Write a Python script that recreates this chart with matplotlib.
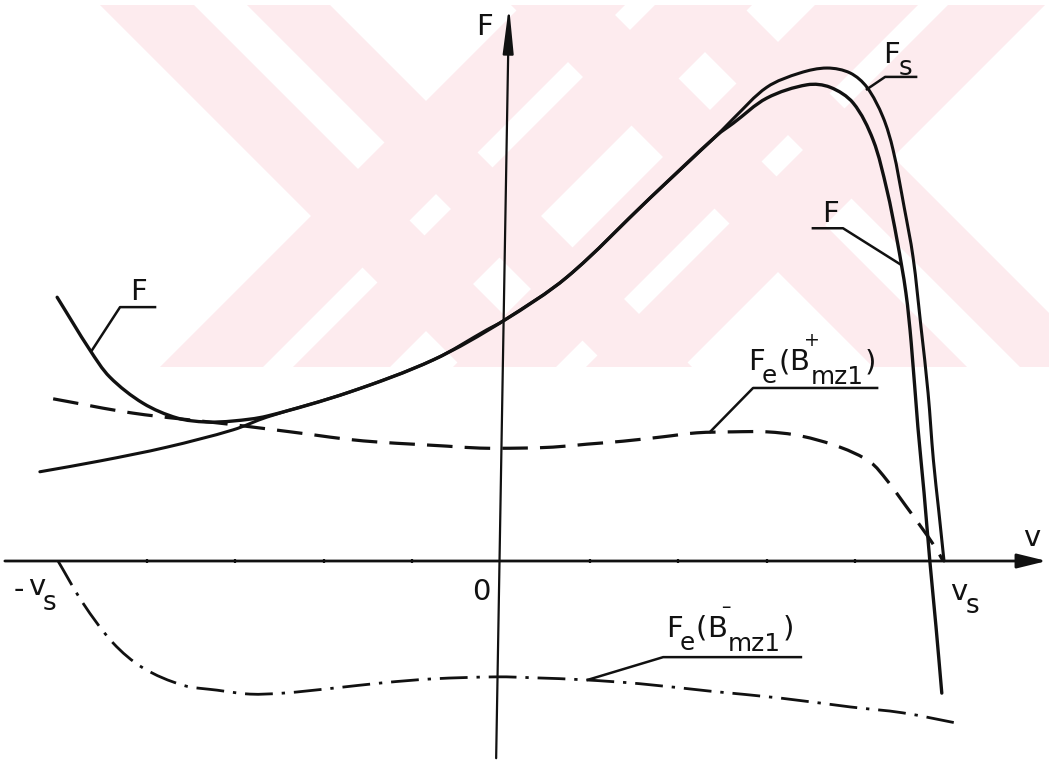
import numpy as np
import matplotlib
matplotlib.use("Agg")
import matplotlib.pyplot as plt
from matplotlib.path import Path
from matplotlib.patches import PathPatch, Polygon, Rectangle

plt.rcParams["font.family"] = ["DejaVu Sans"]

# velocity in units of v_s, force in units of the peak of F_s
v_Fs = [-1.041, -0.905, -0.754, -0.605, -0.528, -0.341, -0.153, -0.032, 0.005,
        0.149, 0.336, 0.488, 0.524, 0.600, 0.675, 0.736, 0.788, 0.826, 0.862,
        0.885, 0.910, 0.930, 0.948, 0.964, 0.976, 0.988, 1.000]
F_Fs = [0.181, 0.203, 0.231, 0.266, 0.292, 0.343, 0.408, 0.469, 0.487,
        0.576, 0.736, 0.864, 0.897, 0.961, 0.990, 1.000, 0.990, 0.961, 0.901,
        0.834, 0.718, 0.617, 0.475, 0.341, 0.205, 0.103, 0.000]

v_F = [-1.002, -0.928, -0.883, -0.808, -0.731, -0.666, -0.605, -0.528, -0.341,
       -0.153, 0.005, 0.149, 0.336, 0.488, 0.524, 0.600, 0.691, 0.743, 0.795,
       0.840, 0.871, 0.894, 0.914, 0.926, 0.941, 0.955, 0.968, 0.982, 0.995]
F_F = [0.535, 0.428, 0.373, 0.320, 0.290, 0.282, 0.284, 0.294, 0.343,
       0.408, 0.487, 0.576, 0.736, 0.864, 0.888, 0.939, 0.966, 0.961, 0.929,
       0.854, 0.753, 0.651, 0.544, 0.442, 0.272, 0.138, 0.000, -0.134, -0.268]

v_Fe_plus = [-1.011, -0.831, -0.619, -0.528, -0.424, -0.348, -0.273, -0.199,
             -0.122, -0.047, 0.043, 0.117, 0.194, 0.275, 0.366, 0.442, 0.524,
             0.600, 0.675, 0.765, 0.833, 0.871, 0.912, 0.950, 0.980, 0.998]
F_Fe_plus = [0.329, 0.300, 0.278, 0.268, 0.256, 0.247, 0.241, 0.237,
             0.233, 0.229, 0.229, 0.231, 0.237, 0.243, 0.252, 0.260, 0.262,
             0.262, 0.254, 0.231, 0.201, 0.164, 0.114, 0.067, 0.028, 0.000]

v_Fe_minus = [-1.000, -0.944, -0.876, -0.808, -0.718, -0.641, -0.567, -0.492,
              -0.379, -0.266, -0.153, -0.009, 0.077, 0.187, 0.314, 0.472,
              0.630, 0.788, 0.907, 1.041]
F_Fe_minus = [0.000, -0.085, -0.166, -0.217, -0.252, -0.262, -0.270, -0.268,
              -0.258, -0.247, -0.239, -0.235, -0.237, -0.241, -0.249, -0.264,
              -0.278, -0.296, -0.308, -0.331]

tick_v = [-0.8, -0.6, -0.4, -0.2, 0.2, 0.4, 0.6, 0.8]

W, H = 1049, 761
fig = plt.figure(figsize=(W / 100, H / 100), dpi=100)

# pale striped emblem behind the drawing, in pixel units (y downwards)
bg = fig.add_axes([0, 0, 1, 1])
bg.set_xlim(0, W)
bg.set_ylim(H, 0)
bg.axis("off")
pink = "#fdebee"
clip = Rectangle((98, 5), W - 98, 362, transform=bg.transData)
# strips of the two crossed bands of each emblem letter:
# (direction, lower offset, upper offset) for lines x - y = c or x + y = c
strips = [("\\", 95, 189), ("\\", 242, 325), ("/", 527, 630), ("/", 660, 757)]
for dx, dy in [(0, 0), (352, -59)]:
    for kind, c0, c1 in strips:
        if kind == "\\":
            a, b = c0 + dx - dy, c1 + dx - dy
            poly = [(a - 100, -100), (b - 100, -100), (b + 900, 900),
                    (a + 900, 900)]
        else:
            a, b = c0 + dx + dy, c1 + dx + dy
            poly = [(a + 100, -100), (b + 100, -100), (b - 900, 900),
                    (a - 900, 900)]
        p = Polygon(poly, closed=True, facecolor=pink, edgecolor="none")
        bg.add_patch(p)
        p.set_clip_path(clip)

ax = fig.add_axes([0, 0, 1, 1])
ax.set_xlim(-1.131, 1.237)
ax.set_ylim(-0.4057, 1.138)
ax.axis("off")
ax.patch.set_alpha(0)

ink = "#111111"
SCALE = np.array([443.0, 493.0])   # screen pixels per data unit (v, F)


def smooth_path(xs, ys):
    """Chord-length Catmull-Rom curve through the given points."""
    P = np.column_stack([xs, ys]) * SCALE
    d = np.linalg.norm(np.diff(P, axis=0), axis=1)
    m = np.zeros_like(P)
    m[0] = (P[1] - P[0]) / d[0]
    m[-1] = (P[-1] - P[-2]) / d[-1]
    for i in range(1, len(P) - 1):
        m[i] = (P[i + 1] - P[i - 1]) / (d[i - 1] + d[i])
    verts, codes = [P[0]], [Path.MOVETO]
    for i in range(len(P) - 1):
        verts += [P[i] + m[i] * d[i] / 3, P[i + 1] - m[i + 1] * d[i] / 3,
                  P[i + 1]]
        codes += [Path.CURVE4] * 3
    return Path(np.array(verts) / SCALE, codes)


def draw_curve(xs, ys, **kw):
    ax.add_patch(PathPatch(smooth_path(xs, ys), fill=False, color=ink,
                           joinstyle="round", **kw))


# coordinate axes
ax.annotate("", xy=(1.232, 0.0), xytext=(-1.120, 0.0),
            arrowprops=dict(arrowstyle="-|>,head_length=0.9,head_width=0.22",
                            lw=2.0, color=ink, shrinkA=0, shrinkB=0,
                            mutation_scale=20))
ax.annotate("", xy=(0.018, 1.126), xytext=(-0.011, -0.400),
            arrowprops=dict(arrowstyle="-|>,head_length=1.4,head_width=0.16",
                            lw=1.6, color=ink, shrinkA=0, shrinkB=0,
                            mutation_scale=20))
ax.plot(tick_v, [0] * len(tick_v), ls="none", marker="|", ms=3, mew=1.6,
        color=ink)

# curves
draw_curve(v_Fs, F_Fs, lw=2.2, capstyle="round")
draw_curve(v_F, F_F, lw=2.4, capstyle="round")
draw_curve(v_Fe_plus, F_Fe_plus, lw=2.3, ls=(0, (8, 3.8)), capstyle="butt")
draw_curve(v_Fe_minus, F_Fe_minus, lw=2.0, ls=(0, (10, 3.2, 1.2, 3.2)),
           capstyle="butt")

# leader lines
lead = dict(color=ink, lw=1.8)
ax.plot([0.826, 0.867, 0.937], [0.957, 0.982, 0.982], **lead)
ax.plot([-0.923, -0.860, -0.781], [0.428, 0.515, 0.515], **lead)
ax.plot([0.901, 0.772, 0.704], [0.602, 0.675, 0.675], **lead)
ax.plot([0.472, 0.569, 0.849], [0.262, 0.351, 0.351], **lead)
ax.plot([0.196, 0.366, 0.677], [-0.241, -0.195, -0.195], **lead)

# labels
fs = 21
renderer = fig.canvas.get_renderer()


def lettering(x, y, runs):
    """Hand-lettered label: runs of (text, rise px, size factor, kern px,
    advance) placed one after another from a baseline anchor."""
    xoff = 0.0
    for text, rise, size, kern, advance in runs:
        t = ax.annotate(text, (x, y), xytext=(xoff + kern, rise),
                        textcoords="offset pixels", fontsize=fs * size,
                        ha="left", va="baseline", color=ink)
        if advance:
            xoff += kern + t.get_window_extent(renderer).width


ax.text(-0.038, 1.083, "F", fontsize=fs, ha="center", va="center", color=ink)
ax.text(1.199, 0.047, "v", fontsize=fs, ha="center", va="center", color=ink)
ax.text(-0.045, -0.063, "0", fontsize=fs, ha="center", va="center", color=ink)
ax.text(-1.088, -0.058, "-", fontsize=fs, ha="center", va="center", color=ink)
ax.text(-0.837, 0.529, "F", fontsize=fs, ha="left", va="baseline", color=ink)
ax.text(0.725, 0.688, "F", fontsize=fs, ha="left", va="baseline", color=ink)

lettering(-1.067, -0.069, [("v", 0, 1, 0, True), ("s", -15, 0.9, -3, True)])
lettering(1.014, -0.079, [("v", 0, 1, 0, True), ("s", -13, 0.9, -2, True)])
lettering(0.862, 1.010, [("F", 0, 1, 0, True), ("s", -12, 0.9, -1, True)])
for x0, y0, sign in [(0.558, 0.387, "+"), (0.372, -0.154, "\u2013")]:
    lettering(x0, y0, [("F", 0, 1, 0, True), ("e", -13, 0.85, -3, True),
                       ("(", 0, 1, 1, True), ("B", 0, 1, 0, True),
                       (sign, 24, 0.65, -6, False),
                       ("mz1", -14, 0.85, 1, True), (")", 0, 1, 1, True)])

fig.savefig("out.png", dpi=100)
